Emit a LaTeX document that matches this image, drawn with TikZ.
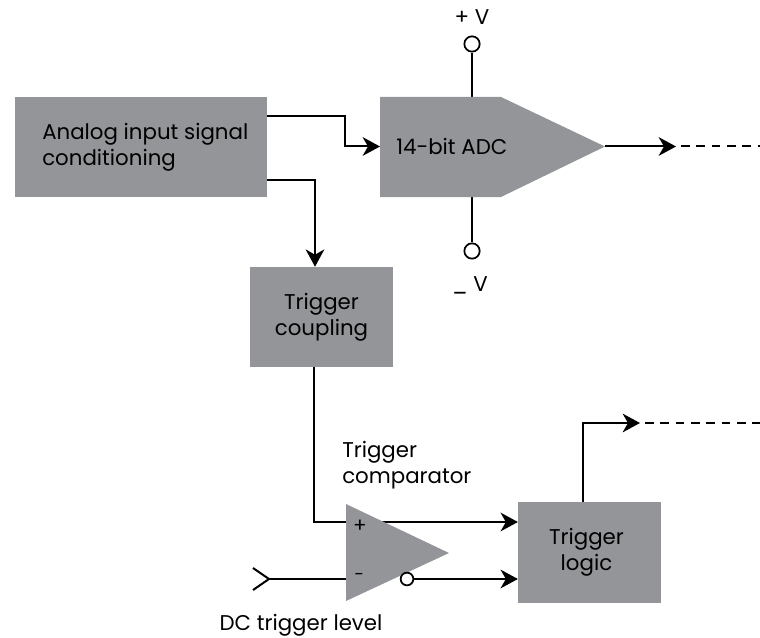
\documentclass[tikz,border=0pt]{standalone}
\usepackage{fontspec}
\setmainfont{Poppins}
\usetikzlibrary{arrows.meta}
\definecolor{blockgray}{HTML}{939598}
\tikzset{
  block/.style={fill=blockgray,inner sep=0pt,align=center},
  sig/.style={line width=1.5pt,black},
  sigarrow/.style={sig,-{Stealth[length=13pt,width=14pt,inset=4pt]}},
  sigdash/.style={sig,dash pattern=on 6.5pt off 5pt},
  terminal/.style={circle,draw,line width=1.3pt,fill=white,inner sep=0pt,minimum size=11.5pt},
  bubble/.style={circle,draw,line width=1.3pt,fill=white,inner sep=0pt,minimum size=9.5pt},
  lbl/.style={font=\fontsize{16}{19.5}\selectfont,inner sep=0pt}
}
\begin{document}
\begin{tikzpicture}[x=0.75pt,y=-0.75pt,every node/.append style={lbl}]
\useasboundingbox (0,0) rectangle (760,638);
% blocks
\node[block,minimum width=189pt,minimum height=75pt] (analog) at (141,147) {};
\node[block,minimum width=107pt,minimum height=75pt] (coupling) at (321.5,317) {Trigger\\coupling};
\node[block,minimum width=107pt,minimum height=75.5pt] (logic) at (589.5,552.5) {};
\node[align=center] (logictext) at (586.5,552) {Trigger\\logic};
\node[anchor=west,align=left] (analogtext) at (42,147) {Analog input signal\\conditioning};
% named points
\coordinate (adcin) at (380,146.5);
\coordinate (adctop) at (472,97);
\coordinate (adcbot) at (472,197);
\coordinate (adctip) at (605,146.5);
\coordinate (adcout) at (676,146.5);
\coordinate (adcend) at (764,146.5);
\coordinate (cmpplus) at (346,522);
\coordinate (cmpminus) at (346,579);
\coordinate (level) at (269,579);
\coordinate (logicout) at (640,423);
\coordinate (logicend) at (764,423);
% terminals
\node[terminal] (vplus) at (472,44) {};
\node[terminal] (vminus) at (472,251) {};
\node (vplustext) at (472,17) {+ V};
\node (vminustext) at (470,285) {\_ V};
% wires
\draw[sigarrow] ([yshift=23.25pt]analog.east) -| (345,130) -- (345,146.5) -- (adcin);
\draw[sigarrow] ([yshift=-24.75pt]analog.east) -| (coupling.north -| 315,0);
\draw[sig] (vplus) -- (adctop);
\draw[sig] (vminus) -- (adcbot);
\draw[sigarrow] (adctip) -- (adcout);
\draw[sigdash] (adcout) ++(5,0) -- (adcend);
\draw[sigarrow] (coupling.south -| 314,0) |- (cmpplus) -- (logic.west |- cmpplus);
\draw[sig] (level) -- (cmpminus);
\draw[sig] (253,568) -- (level) -- (253,590);
\draw[sigarrow] (logic.north -| 583,0) |- (logicout);
\draw[sigdash] (logicout) ++(5,0) -- (logicend);
% adc and comparator
\fill[blockgray] (adcin |- adctop) -- (501,97) -- (adctip) -- (501,197) -- (adcin |- adcbot) -- cycle;
\fill[blockgray] (346,504) -- (449,553) -- (346,601) -- cycle;
\node[anchor=west] (adctext) at (396,146) {14-bit ADC};
\node[bubble] (cmpout) at (407,579) {};
\draw[sigarrow] (cmpout) -- (logic.west |- cmpout);
\node[font=\fontsize{15}{15}\selectfont] (plus) at (360,526) {+};
\node[font=\fontsize{13}{13}\selectfont] (minus) at (359,577) {−};
% labels
\node[anchor=west,align=left] (cmptext) at (342,465) {Trigger\\comparator};
\node (leveltext) at (301,625) {DC trigger level};
\end{tikzpicture}
\end{document}
